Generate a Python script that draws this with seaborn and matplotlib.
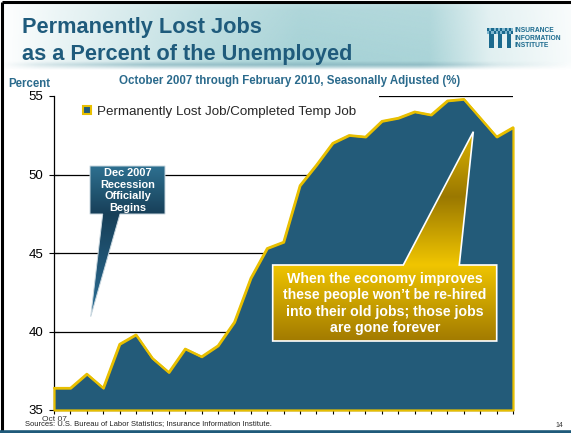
import numpy as np
import pandas as pd
import matplotlib
matplotlib.use("Agg")
import matplotlib.pyplot as plt
import seaborn as sns
from matplotlib.patches import Polygon, Rectangle
from matplotlib.colors import LinearSegmentedColormap, to_rgb

# Monthly share of the unemployed who permanently lost their job or completed a temp job
months = pd.date_range("2007-10-01", "2010-02-01", freq="MS")
pct_permanent = [36.4, 36.4, 37.3, 36.4, 39.2, 39.8, 38.3, 37.4, 38.9, 38.4,
                 39.1, 40.6, 43.4, 45.3, 45.7, 49.3, 50.6, 52.0, 52.5, 52.4,
                 53.4, 53.6, 54.0, 53.8, 54.7, 54.8, 53.6, 52.4, 53.0]
x_tick_labels = ["Oct 07"] + [""] * (len(months) - 1)
y_ticks = [35, 40, 45, 50, 55]
series_name = "Permanently Lost Job/Completed Temp Job"

TEAL = "#235b79"
GOLD = "#e8bf00"
TITLE_BLUE = "#1f5b7c"
SUB_BLUE = "#2a6a8c"

df = pd.DataFrame({"month_idx": np.arange(len(months)), "pct": pct_permanent})

sns.set_theme(style="white")
plt.rcParams["font.family"] = ["Liberation Sans", "DejaVu Sans"]

W, H = 571, 433
fig = plt.figure(figsize=(W / 100, H / 100), dpi=100)
fig.patch.set_facecolor("white")

# ---------------- main chart ----------------
ax = fig.add_axes([54 / W, 1 - 410 / H, (513 - 54) / W, (410 - 96) / H])
ax.set_facecolor("white")
ax.fill_between(df["month_idx"], y_ticks[0], df["pct"], facecolor=TEAL,
                edgecolor=GOLD, linewidth=1.6, zorder=3, clip_on=False)
sns.lineplot(data=df, x="month_idx", y="pct", color=GOLD, linewidth=1.6,
             ax=ax, zorder=4, clip_on=False)
ax.set_xlim(df["month_idx"].min(), df["month_idx"].max())
ax.set_ylim(y_ticks[0], y_ticks[-1])
ax.set_yticks(y_ticks)
ax.set_xticks(df["month_idx"])
ax.set_xticklabels(x_tick_labels)
ax.set_xlabel("")
ax.set_ylabel("")
ax.yaxis.grid(True, color="black", linewidth=0.9)
ax.xaxis.grid(False)
ax.set_axisbelow(True)
for side in ("top", "right"):
    ax.spines[side].set_visible(False)
for side in ("left", "bottom"):
    ax.spines[side].set_color("black")
    ax.spines[side].set_linewidth(0.9)
ax.tick_params(axis="y", direction="inout", length=7, width=0.8, colors="black",
               labelsize=9.5, pad=4, left=True)
ax.tick_params(axis="x", direction="out", length=3, width=0.8, colors="black",
               labelsize=6, pad=1.5, bottom=True)
for lab in ax.get_xticklabels():
    lab.set_color("#333333")

# white band behind the legend hides the top gridline
ax.add_patch(Rectangle((0, 0.93), 0.708, 0.09, transform=ax.transAxes,
                       facecolor="white", edgecolor="none", zorder=1,
                       clip_on=False))
handle = Rectangle((0, 0), 1, 1, facecolor=TEAL, edgecolor=GOLD, linewidth=1.5)
ax.legend([handle], [series_name], loc="center left",
          bbox_to_anchor=(0.0625, 0.95), frameon=False, fontsize=9.6,
          handlelength=0.62, handleheight=0.62, handletextpad=0.45,
          borderpad=0, borderaxespad=0)

# ---------------- overlay in pixel coordinates ----------------
ov = fig.add_axes([0, 0, 1, 1], zorder=5)
ov.set_xlim(0, W)
ov.set_ylim(H, 0)
ov.axis("off")
ov.patch.set_alpha(0)

# header band: soft teal glow behind the title
hx = np.linspace(0, W, 400)
alpha_x = np.interp(hx, [0, 60, 200, 300, 430, 490, W], [0.0, 0.25, 0.75, 1.0, 0.95, 0.35, 0.08])
hy = np.linspace(3, 70, 120)
alpha_y = np.interp(hy, [3, 10, 58, 62, 66, 70], [0.75, 0.9, 1.0, 1.0, 0.6, 0.0])
glow = np.zeros((len(hy), len(hx), 4))
glow[..., :3] = to_rgb("#a6d2d6")
glow[..., 3] = alpha_y[:, None] * alpha_x[None, :]
ov.imshow(glow, extent=(0, W, 70, 3), origin="upper", aspect="auto",
          interpolation="bilinear", zorder=0)
# faint shadow under the header
sy = np.linspace(61, 70, 30)
sh_alpha_y = np.interp(sy, [61, 64.5, 70], [0.0, 0.55, 0.0])
sh_alpha_x = np.interp(hx, [0, 40, 150, 420, 500, W], [0.0, 0.3, 0.8, 0.8, 0.2, 0.0])
shadow = np.zeros((len(sy), len(hx), 4))
shadow[..., :3] = to_rgb("#4f8f9f")
shadow[..., 3] = sh_alpha_y[:, None] * sh_alpha_x[None, :]
ov.imshow(shadow, extent=(0, W, 70, 61), origin="upper", aspect="auto",
          interpolation="bilinear", zorder=0.5)

# slide frame
ov.plot([2, W], [2, 2], color="black", linewidth=2.2, solid_capstyle="butt", zorder=6)
ov.plot([2, 2], [2, H], color="black", linewidth=2.2, solid_capstyle="butt", zorder=6)
ov.plot([0, W], [431.8, 431.8], color="#1f5a7a", linewidth=2.6, solid_capstyle="butt", zorder=6)

# titles
ov.text(22, 33, "Permanently Lost Jobs", fontsize=15.7, fontweight="bold",
        color=TITLE_BLUE, va="baseline", ha="left", zorder=3)
ov.text(22, 60, "as a Percent of the Unemployed", fontsize=15.7, fontweight="bold",
        color=TITLE_BLUE, va="baseline", ha="left", zorder=3)
ov.text(289.5, 84, "October 2007 through February 2010, Seasonally Adjusted (%)",
        fontsize=8.3, fontweight="bold", color=SUB_BLUE, va="baseline",
        ha="center", zorder=3)
ov.text(8, 87, "Percent", fontsize=8.3, fontweight="bold", color=SUB_BLUE,
        va="baseline", ha="left", zorder=3)

# logo
logo_blue = "#1b6a8e"
for i in range(3):
    x0 = 487 + i * 8.8
    ov.add_patch(Rectangle((x0 + 2.3, 34), 4.2, 14.3, facecolor=logo_blue,
                           edgecolor="none", zorder=3))
    for j in range(4):
        ov.add_patch(Rectangle((x0 + j * 2.2, 28), 2.2, 3.2,
                               facecolor=logo_blue if j % 2 == 0 else "#7fb7cf",
                               edgecolor="none", zorder=3))
        ov.add_patch(Rectangle((x0 + j * 2.2, 31.2), 2.2, 2.9,
                               facecolor="#7fb7cf" if j % 2 == 0 else logo_blue,
                               edgecolor="none", zorder=3))
for k, word in enumerate(["INSURANCE", "INFORMATION", "INSTITUTE"]):
    ov.text(514.5, 32 + k * 7.6, word, fontsize=4.8, fontweight="bold",
            color=logo_blue, va="baseline", ha="left", zorder=3)

# footer
ov.text(25, 425.5, "Sources: U.S. Bureau of Labor Statistics; Insurance Information Institute.",
        fontsize=5.5, color="#222222", va="baseline", ha="left", zorder=3)
ov.text(563, 427, "14", fontsize=5, color="#333333", va="baseline", ha="right", zorder=3)


def gradient_callout(verts, stops, edge, lw, z):
    ys = [s[0] for s in stops]
    y0, y1 = min(ys), max(ys)
    xs = [v[0] for v in verts]
    cmap = LinearSegmentedColormap.from_list(
        "c", [((s[0] - y0) / (y1 - y0), s[1]) for s in stops])
    grad = np.linspace(0, 1, 256)[:, None]
    im = ov.imshow(grad, cmap=cmap, extent=(min(xs), max(xs), y1, y0),
                   origin="upper", aspect="auto", zorder=z, interpolation="bilinear")
    poly = Polygon(verts, closed=True, facecolor="none", edgecolor=edge,
                   linewidth=lw, zorder=z + 0.1, joinstyle="miter")
    ov.add_patch(poly)
    im.set_clip_path(poly)


# recession callout
gradient_callout([(90, 166), (165, 166), (165, 214), (120, 214), (90.7, 316.7),
                  (102.7, 214), (90, 214)],
                 [(166, "#2e7090"), (214, "#173f58"), (316.7, "#2b6e96")],
                 "#c9d7df", 0.7, 2)
ov.text(127.5, 190.5, "Dec 2007\nRecession\nOfficially\nBegins", fontsize=7.9,
        fontweight="bold", color="white", ha="center", va="center",
        linespacing=1.2, zorder=3)

# economy callout
gradient_callout([(272.7, 265), (403.3, 265), (473.3, 131.7), (459.3, 265),
                  (496.7, 265), (496.7, 341), (272.7, 341)],
                 [(131.7, "#dcb400"), (197, "#9a7800"), (265, "#f0c500"),
                  (341, "#a27b00")],
                 "white", 1.2, 2)
ov.text(384.7, 303.5, "When the economy improves\nthese people won\u2019t be re-hired\n"
        "into their old jobs; those jobs\nare gone forever", fontsize=10.2,
        fontweight="bold", color="white", ha="center", va="center",
        linespacing=1.2, zorder=3)

ov.set_xlim(0, W)
ov.set_ylim(H, 0)

fig.savefig("out.png", dpi=100)
